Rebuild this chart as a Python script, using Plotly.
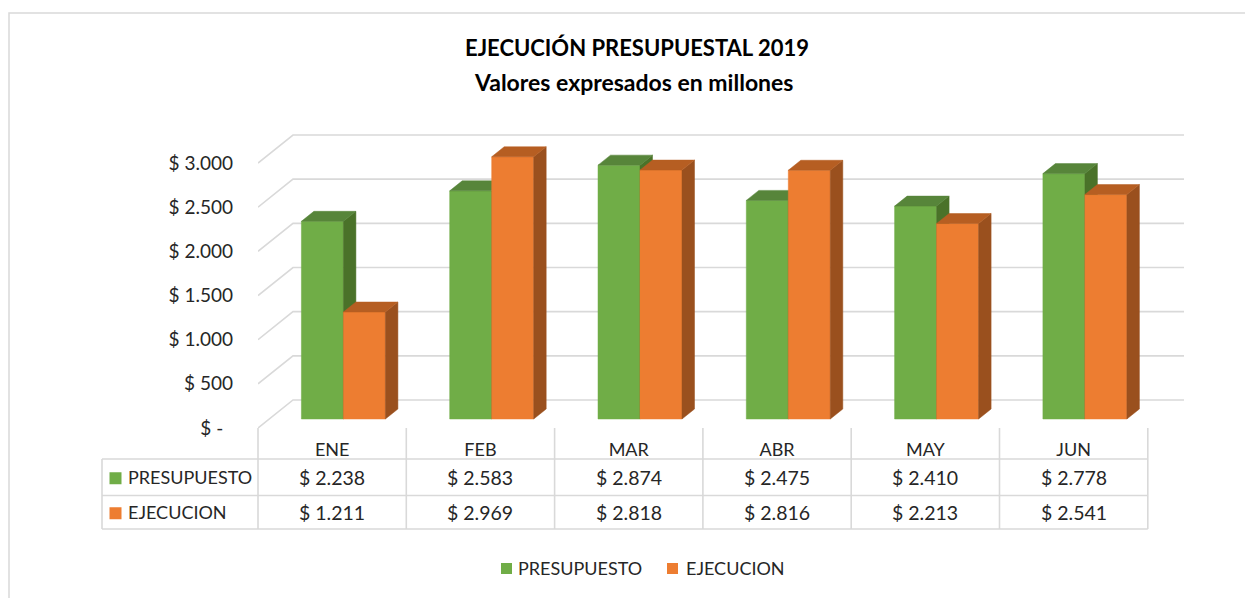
import plotly.graph_objects as go

# ---------------- data ----------------
categories = ["ENE", "FEB", "MAR", "ABR", "MAY", "JUN"]
presupuesto = [2238, 2583, 2874, 2475, 2410, 2778]
ejecucion = [1211, 2969, 2818, 2816, 2213, 2541]
series_names = ["PRESUPUESTO", "EJECUCION"]
y_tick_vals = [0, 500, 1000, 1500, 2000, 2500, 3000]
y_tick_text = ["$ -\u00a0\u00a0", "$ 500", "$ 1.000", "$ 1.500", "$ 2.000", "$ 2.500", "$ 3.000"]
table_text_presupuesto = ["$ 2.238", "$ 2.583", "$ 2.874", "$ 2.475", "$ 2.410", "$ 2.778"]
table_text_ejecucion = ["$ 1.211", "$ 2.969", "$ 2.818", "$ 2.816", "$ 2.213", "$ 2.541"]

# ---------------- styling / geometry ----------------
SHIFT = 8                  # page body margin
W, H = 1253 - SHIFT, 598 - SHIFT


def P(p):
    return p - SHIFT


L_PX, R_PX, T_PX, B_PX = P(258), P(1184), P(125), P(428)
CAT_PX = 148.3            # pixels per category
Y_PX = 0.08833            # pixels per value unit
FONT = "Lato"
TXT = "#262626"
GRID = "#D9D9D9"

x_min = -0.5
x_max = x_min + (R_PX - L_PX) / CAT_PX
y_min = 0
y_max = (B_PX - T_PX) / Y_PX


def dx(p):
    return p / CAT_PX


def dy(p):
    return p / Y_PX


def paper_x(px):
    return (P(px) - L_PX) / (R_PX - L_PX)


def paper_y(py):
    return (B_PX - P(py)) / (B_PX - T_PX)


def data_to_paper_x(xv):
    return (xv - x_min) / (x_max - x_min)


FLOOR_DX, FLOOR_DY = dx(35), dy(28)
OFF_DX, OFF_DY = dx(11.25), dy(9)
BAR_DX, BAR_DY = dx(12.5), dy(10)
BAR_W = dx(42)

colors = {
    "PRESUPUESTO": {"front": "#70AD47", "top": "#57853A", "side": "#4A7229"},
    "EJECUCION": {"front": "#ED7D31", "top": "#B65E22", "side": "#9A501E"},
}

fig = go.Figure()

# back-wall / side-wall gridlines (3D box)
shapes = []
for v in y_tick_vals:
    shapes.append(dict(
        type="path", xref="x", yref="y", layer="below",
        path=f"M {x_min},{v} L {x_min + FLOOR_DX},{v + FLOOR_DY} L {x_max},{v + FLOOR_DY}",
        line=dict(color=GRID, width=1.6),
    ))

# 3D bars as polygons
for s, (name, vals) in enumerate(zip(series_names, [presupuesto, ejecucion])):
    fx, fy, sx, sy, tx, ty = [], [], [], [], [], []
    for i, v in enumerate(vals):
        c = i + OFF_DX
        x0 = c + (s - 1) * BAR_W
        x1 = x0 + BAR_W
        base = OFF_DY
        top = base + v
        fx += [x0, x1, x1, x0, x0, None]
        fy += [base, base, top, top, base, None]
        sx += [x1, x1 + BAR_DX, x1 + BAR_DX, x1, x1, None]
        sy += [base, base + BAR_DY, top + BAR_DY, top, base, None]
        tx += [x0, x1, x1 + BAR_DX, x0 + BAR_DX, x0, None]
        ty += [top, top, top + BAR_DY, top + BAR_DY, top, None]
    col = colors[name]
    for xs, ys, cc, lab in [(fx, fy, col["front"], name), (sx, sy, col["side"], None),
                            (tx, ty, col["top"], None)]:
        fig.add_trace(go.Scatter(
            x=xs, y=ys, mode="lines", fill="toself", fillcolor=cc,
            line=dict(color=cc, width=0.5), showlegend=False,
            name=name, hoverinfo="skip",
        ))

# ---------------- data table ----------------
tbl_top, tbl_mid, tbl_bot = 459, 495.5, 529
tbl_left = 102
col_edges = [data_to_paper_x(i - 0.5) for i in range(len(categories) + 1)]
for py in [tbl_top, tbl_mid, tbl_bot]:
    shapes.append(dict(type="line", xref="paper", yref="paper",
                       x0=paper_x(tbl_left), x1=col_edges[-1], y0=paper_y(py), y1=paper_y(py),
                       line=dict(color=GRID, width=1.6)))
shapes.append(dict(type="line", xref="paper", yref="paper",
                   x0=paper_x(tbl_left), x1=paper_x(tbl_left), y0=paper_y(tbl_top), y1=paper_y(tbl_bot),
                   line=dict(color=GRID, width=1.6)))
for xe in col_edges:
    shapes.append(dict(type="line", xref="paper", yref="paper",
                       x0=xe, x1=xe, y0=paper_y(428), y1=paper_y(tbl_bot),
                       line=dict(color=GRID, width=1.6)))

annotations = []
row_centers = [(tbl_top + tbl_mid) / 2, (tbl_mid + tbl_bot) / 2]
for r, (name, texts) in enumerate(zip(series_names, [table_text_presupuesto, table_text_ejecucion])):
    yc = paper_y(row_centers[r])
    shapes.append(dict(type="rect", xref="paper", yref="paper",
                       x0=paper_x(109.5), x1=paper_x(121.5),
                       y0=paper_y(row_centers[r] - 6 + 1), y1=paper_y(row_centers[r] + 6 + 1),
                       fillcolor=colors[name]["front"], line=dict(width=0)))
    annotations.append(dict(xref="paper", yref="paper", x=paper_x(126), y=yc,
                            xanchor="left", yanchor="middle", showarrow=False,
                            text=name, font=dict(family=FONT, size=18, color=TXT)))
    for i, t in enumerate(texts):
        annotations.append(dict(xref="x", yref="paper", x=i, y=yc,
                                xanchor="center", yanchor="middle", showarrow=False,
                                text=t, font=dict(family=FONT, size=19.5, color=TXT)))

# bottom legend (manual, to match spacing)
legend_items = [(series_names[0], 501, 516), (series_names[1], 667, 684)]
for name, sq_x, tx_x in legend_items:
    shapes.append(dict(type="rect", xref="paper", yref="paper",
                       x0=paper_x(sq_x), x1=paper_x(sq_x + 11),
                       y0=paper_y(563), y1=paper_y(574),
                       fillcolor=colors[name]["front"], line=dict(width=0)))
    annotations.append(dict(xref="paper", yref="paper", x=paper_x(tx_x), y=paper_y(568),
                            xanchor="left", yanchor="middle", showarrow=False,
                            text=name, font=dict(family=FONT, size=18, color=TXT)))

# title
annotations.append(dict(xref="paper", yref="paper", x=paper_x(637), y=paper_y(48),
                        xanchor="center", yanchor="middle", showarrow=False,
                        text="<b>EJECUCIÓN PRESUPUESTAL 2019</b>",
                        font=dict(family=FONT, size=22, color="#000000")))
annotations.append(dict(xref="paper", yref="paper", x=paper_x(633), y=paper_y(82),
                        xanchor="center", yanchor="middle", showarrow=False,
                        text="<b>Valores expresados en millones</b>",
                        font=dict(family=FONT, size=23, color="#000000")))

# chart border
shapes.append(dict(type="rect", xref="paper", yref="paper",
                   x0=paper_x(9), x1=paper_x(1300), y0=paper_y(13), y1=paper_y(700),
                   line=dict(color=GRID, width=1.5), layer="below"))

fig.update_layout(
    width=W, height=H,
    margin=dict(l=L_PX, r=W - R_PX, t=T_PX, b=H - B_PX),
    paper_bgcolor="white", plot_bgcolor="white",
    font=dict(family=FONT, size=18, color=TXT),
    shapes=shapes, annotations=annotations,
    showlegend=False,
    xaxis=dict(range=[x_min, x_max], showgrid=False, zeroline=False, showline=False,
               tickmode="array", tickvals=list(range(len(categories))), ticktext=categories,
               ticks="", ticklabelstandoff=9, tickfont=dict(family=FONT, size=18, color=TXT),
               fixedrange=True),
    yaxis=dict(range=[y_min, y_max], showgrid=False, zeroline=False, showline=False,
               tickmode="array", tickvals=y_tick_vals, ticktext=y_tick_text,
               ticks="", ticklabelstandoff=24, tickfont=dict(family=FONT, size=19, color=TXT),
               fixedrange=True),
)

fig.write_html("out.html")
